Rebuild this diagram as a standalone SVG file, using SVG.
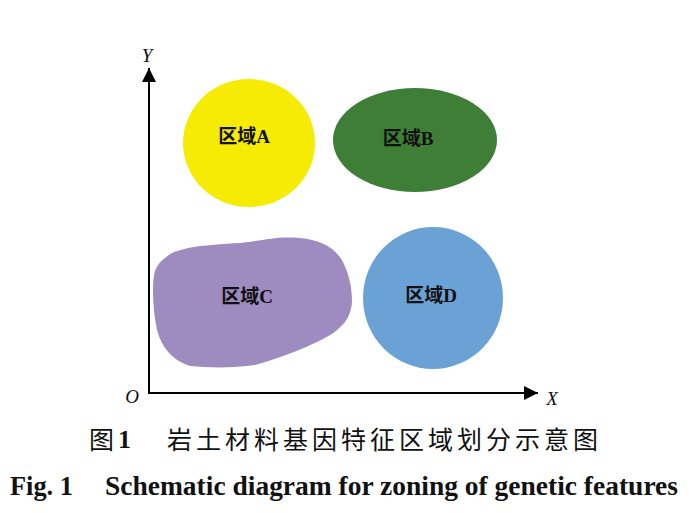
<svg xmlns="http://www.w3.org/2000/svg" width="700" height="513" viewBox="0 0 700 513">
<style>
.lbl{font-family:"Liberation Serif","Noto Sans CJK SC",serif;font-size:19px;font-weight:bold;fill:#111;text-anchor:middle}
.ax{font-family:"Liberation Serif",serif;font-size:19px;font-style:italic;fill:#111;text-anchor:middle}
.axis{stroke:#000;stroke-width:2;fill:none}
</style>
<defs>
<marker id="arr" viewBox="0 0 10 10" refX="10" refY="5" markerWidth="7" markerHeight="7" markerUnits="strokeWidth" orient="auto">
<path d="M0,0 L10,5 L0,10 z" fill="#000"/>
</marker>
</defs>
<rect width="700" height="513" fill="#fff"/>
<g id="connectors">
<polyline class="axis" points="149,394 149,68" marker-end="url(#arr)"/>
<polyline class="axis" points="148,393 538,393" marker-end="url(#arr)"/>
</g>
<text class="ax" x="147" y="62">Y</text>
<text class="ax" x="552" y="405">X</text>
<text class="ax" x="132" y="403">O</text>
<g id="regionA">
<ellipse cx="249" cy="143" rx="66" ry="64" fill="#F6EB05"/>
<text class="lbl" x="244" y="143">区域A</text>
</g>
<g id="regionB">
<ellipse cx="415" cy="140" rx="82" ry="52" fill="#3F7E37"/>
<text class="lbl" x="408" y="145">区域B</text>
</g>
<g id="regionD">
<ellipse cx="433" cy="298" rx="70" ry="71" fill="#6BA2D6"/>
<text class="lbl" x="431" y="302">区域D</text>
</g>
<g id="regionC">
<ellipse cx="317" cy="336" rx="12" ry="5" transform="rotate(-30 317 336)" fill="#3E6BB5"/>
<path d="M165,258 C175,248 200,245 240,243 C262,241 275,236 300,238 C320,240 335,247 343,262 C350,276 352,290 352,302 C351,315 346,324 332,334 C310,347 280,358 255,365 C235,368 210,368 190,366 C172,360 162,348 157,330 C153,310 152,290 154,275 C156,266 160,262 165,258 Z" fill="#9E8BC0"/>
<text class="lbl" x="247" y="303">区域C</text>
</g>
<g font-family="'Liberation Serif','Noto Sans CJK SC',serif" fill="#111">
<text x="89" y="449" font-size="25">图</text>
<text x="118" y="448" font-size="26" font-weight="bold">1</text>
<text x="167" y="449" font-size="25" textLength="431" lengthAdjust="spacing">岩土材料基因特征区域划分示意图</text>
<text x="10" y="495" font-size="27" font-weight="bold" textLength="63" lengthAdjust="spacingAndGlyphs">Fig. 1</text>
<text x="105" y="495" font-size="27" font-weight="bold" textLength="573" lengthAdjust="spacingAndGlyphs">Schematic diagram for zoning of genetic features</text>
</g>
</svg>
